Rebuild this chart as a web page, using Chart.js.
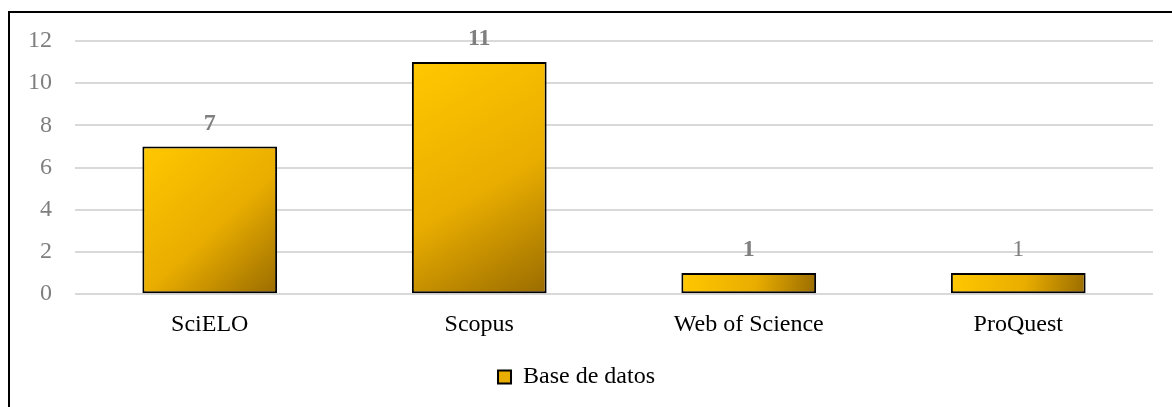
<!DOCTYPE html>
<html>
<head>
<meta charset="utf-8">
<script src="https://cdn.jsdelivr.net/npm/chart.js@4/dist/chart.umd.min.js"></script>
<style>
    html, body { margin: 0; padding: 0; background: #fff; overflow: hidden; }
    #wrap { position: relative; width: 1172px; height: 407px; }
    #frame { position: absolute; left: 8px; top: 11px; width: 1300px; height: 600px; border: 2px solid #000; box-sizing: border-box; }
    #c { position: absolute; left: 0; top: 0; }
</style>
</head>
<body>
<div id="wrap">
    <div id="frame"></div>
    <canvas id="c" width="1172" height="407"></canvas>
</div>
<script>
// ── data ──────────────────────────────────────────────────────────────────────
const categories = ['SciELO', 'Scopus', 'Web of Science', 'ProQuest'];
const counts = [7, 11, 1, 1];
const seriesLabel = 'Base de datos';
const yTicks = [0, 2, 4, 6, 8, 10, 12];

const FONT = "'Liberation Serif', 'Times New Roman', serif";
const labelWeights = ['bold', 'bold', 'bold', 'normal'];

// gradient fill per bar, top-left light gold -> bottom-right dark gold
const gradientBars = {
    id: 'gradientBars',
    beforeDatasetsDraw(chart) {
        const ctx = chart.ctx;
        chart.getDatasetMeta(0).data.forEach(bar => {
            const p = bar.getProps(['x', 'y', 'base', 'width'], true);
            const l = p.x - p.width / 2, r = p.x + p.width / 2;
            const g = ctx.createLinearGradient(l, p.y, r, p.base);
            g.addColorStop(0, '#ffc800');
            g.addColorStop(0.55, '#e9ad00');
            g.addColorStop(1, '#9a6c00');
            // own options object per bar so the gradients don't overwrite each other
            bar.options = Object.assign({}, bar.options, { backgroundColor: g });
        });
    }
};

// value labels above bars
const valueLabels = {
    id: 'valueLabels',
    afterDatasetsDraw(chart) {
        const ctx = chart.ctx;
        const ds = chart.data.datasets[0];
        ctx.save();
        ctx.fillStyle = '#7f7f7f';
        ctx.textAlign = 'center';
        ctx.textBaseline = 'alphabetic';
        chart.getDatasetMeta(0).data.forEach((bar, i) => {
            ctx.font = labelWeights[i] + ' 24px ' + FONT;
            ctx.fillText(String(ds.data[i]), bar.x, bar.y - 17);
        });
        ctx.restore();
    }
};

new Chart(document.getElementById('c'), {
    type: 'bar',
    data: {
        labels: categories,
        datasets: [{
            label: seriesLabel,
            data: counts,
            backgroundColor: () => '#e9ad00',
            borderColor: '#000',
            borderWidth: 2,
            borderSkipped: false,
            categoryPercentage: 1,
            barPercentage: 0.5
        }]
    },
    options: {
        responsive: false,
        animation: false,
        devicePixelRatio: 1,
        layout: { padding: { top: 41, right: 19, left: 0, bottom: 8 } },
        plugins: {
            legend: {
                position: 'bottom',
                labels: {
                    boxWidth: 13, boxHeight: 13, padding: 12,
                    color: '#000',
                    font: { family: FONT, size: 24 }
                }
            },
            tooltip: { enabled: false }
        },
        scales: {
            x: {
                afterFit: s => { s.height = s.height + 6; },
                grid: { display: false },
                border: { display: false },
                ticks: { color: '#000', padding: 8, font: { family: FONT, size: 24 } }
            },
            y: {
                min: 0, max: 12,
                afterFit: s => { s.width = 75; },
                afterBuildTicks: s => { s.ticks = yTicks.map(v => ({ value: v })); },
                grid: { color: '#d9d9d9', lineWidth: 2, drawTicks: false },
                border: { display: false },
                ticks: { color: '#7f7f7f', padding: 23, font: { family: FONT, size: 24 } }
            }
        }
    },
    plugins: [gradientBars, valueLabels]
});
</script>
</body>
</html>
